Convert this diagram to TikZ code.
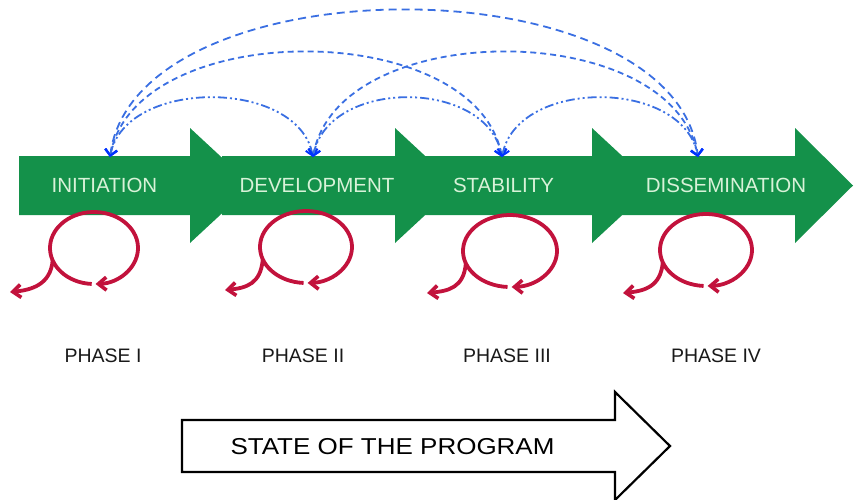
\documentclass[tikz,border=0pt]{standalone}
\usepackage{fontspec}
\setmainfont{Liberation Sans}
\usetikzlibrary{arrows.meta,calc}
\definecolor{arrgreen}{HTML}{14914A}
\definecolor{lbltext}{HTML}{D8F2D8}
\definecolor{arcblue}{HTML}{3A6FE2}
\definecolor{loopred}{HTML}{C2123C}
\tikzset{
  greenarrow/.style={fill=arrgreen, draw=none},
  phaselbl/.style={text=lbltext, font=\fontsize{20.5}{22}\selectfont, inner sep=0pt, anchor=center},
  phasename/.style={text=black!90, font=\fontsize{19.5}{21}\selectfont, inner sep=0pt, anchor=center},
  bluearc/.style={draw=arcblue, line width=1.8pt, {Straight Barb[length=6pt,width=12pt,line width=2pt,color=blue!80!cyan]}-{Straight Barb[length=6pt,width=12pt,line width=2pt,color=blue!80!cyan]}},
  outerdash/.style={dash pattern=on 8pt off 5pt},
  middash/.style={dash pattern=on 6pt off 4pt},
  innerdash/.style={dash pattern=on 9pt off 3pt on 2pt off 3pt on 2pt off 3pt},
  redloop/.style={draw=loopred, line width=3.8pt, -{Straight Barb[length=8pt,width=13pt,line width=3.6pt]}},
}
\begin{document}
\begin{tikzpicture}[x=1pt,y=-1pt]
\useasboundingbox (0,0) rectangle (854,499);
% green arrows
\foreach \xa/\hb/\tp in {19/190/252, 222/395/457, 425/592/654, 620/795/853}{
  \fill[greenarrow] (\xa,156) -- (\hb,156) -- (\hb,128) -- (\tp,185.5) -- (\hb,243) -- (\hb,215) -- (\xa,215) -- cycle;
}
\node[phaselbl] (lI) at (104.5,185) {INITIATION};
\node[phaselbl] (lD) at (317,185) {DEVELOPMENT};
\node[phaselbl] (lS) at (503.5,185) {STABILITY};
\node[phaselbl] (lDm) at (726,185) {DISSEMINATION};
% arc endpoints
\coordinate (pI) at (110,157);
\coordinate (pD) at (313,157);
\coordinate (pS) at (502,157);
\coordinate (pDm) at (698,157);
% blue arcs
\draw[bluearc, outerdash] (pI) .. controls (135,-39) and (675,-39) .. (pDm);
\draw[bluearc, middash] (pI) .. controls (135,17) and (475,17) .. (pS);
\draw[bluearc, middash] (pD) .. controls (338,17) and (672,17) .. (pDm);
\draw[bluearc, innerdash] (pI) .. controls (125,78) and (298,78) .. (pD);
\draw[bluearc, innerdash] (pD) .. controls (328,78) and (487,78) .. (pS);
\draw[bluearc, innerdash] (pS) .. controls (517,78) and (683,78) .. (pDm);
% red loops
\foreach \cx/\cy/\rx/\ry/\tx/\ty [count=\i] in {94/248/44/36/10/292, 306/247/46/36/225/290, 510/251/47/36/427/293, 706/250/46/36/623/293}{
  \coordinate (c\i) at (\cx,\cy);
  \coordinate (t\i) at (\tx,\ty);
  \draw[redloop] ($(c\i)+({\rx*cos(93)},{\ry*sin(93)})$) arc[start angle=93, end angle=448, x radius=\rx, y radius=\ry];
  \draw[redloop] ($(c\i)+({\rx*cos(160)},{\ry*sin(160)})$) .. controls ($(c\i)+({\rx*cos(160)-2},{\ry*sin(160)+24})$) and ($(t\i)+(22,-2)$) .. (t\i);
}
% phase names
\node[phasename] (pn1) at (103,356) {PHASE I};
\node[phasename] (pn2) at (303,356) {PHASE II};
\node[phasename] (pn3) at (507,356) {PHASE III};
\node[phasename] (pn4) at (716,356) {PHASE IV};
% bottom arrow
\draw[line width=2.2pt, fill=white, line join=miter] (182,420) -- (615,420) -- (615,392) -- (670,446) -- (615,500) -- (615,472) -- (182,472) -- cycle;
\node[font=\fontsize{23}{25}\selectfont, xscale=1.13, inner sep=0pt] (state) at (392.5,447) {STATE OF THE PROGRAM};
\end{tikzpicture}
\end{document}
